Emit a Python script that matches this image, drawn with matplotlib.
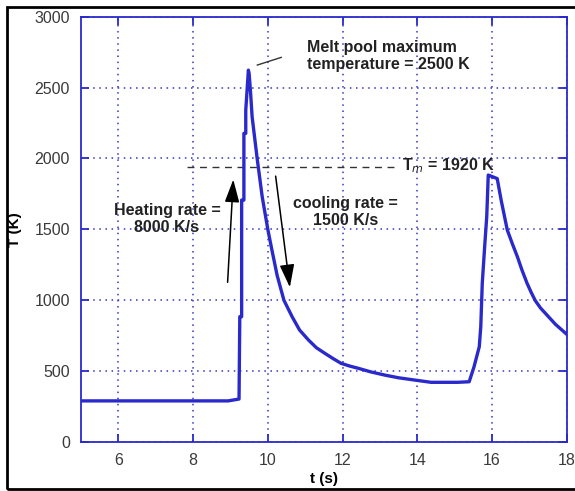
import matplotlib
matplotlib.use("Agg")
import matplotlib.pyplot as plt
from matplotlib.patches import Rectangle

plt.rcParams["font.family"] = ["Liberation Sans", "DejaVu Sans"]

# temperature history
t_s = [5.0, 8.94, 9.23, 9.25, 9.30, 9.30, 9.36, 9.36, 9.41, 9.41, 9.48, 9.50,
       9.54, 9.58, 9.72, 9.85, 10.0, 10.11, 10.25, 10.43, 10.65, 10.85, 11.09,
       11.3, 11.53, 11.75, 11.96, 12.2, 12.42, 12.75, 13.13, 13.5, 13.93,
       14.37, 15.08, 15.39, 15.52, 15.66, 15.70, 15.74, 15.81, 15.86, 15.90,
       15.93, 16.14, 16.25, 16.41, 16.55, 16.68, 16.8, 16.94, 17.05, 17.16,
       17.3, 17.47, 17.7, 18.0]
T_K = [290, 290, 303, 884, 884, 1707, 1707, 2177, 2177, 2341, 2623, 2600,
       2459, 2294, 1989, 1730, 1500, 1354, 1175, 1001, 884, 790, 719,
       665, 625, 588, 555, 535, 520, 495, 472, 453, 437,
       421, 421, 425, 531, 672, 813, 1119, 1401, 1590, 1883,
       1880, 1858, 1700, 1495, 1395, 1307, 1215, 1119, 1055, 997,
       945, 896, 830, 760]

xticks = [6, 8, 10, 12, 14, 16, 18]
yticks = [0, 500, 1000, 1500, 2000, 2500, 3000]

T_melt = 1940
melt_span = [7.85, 13.5]

blue = "#2a2acc"
grid_blue = "#3535c0"

fig = plt.figure(figsize=(5.75, 4.91), dpi=100)
ax = fig.add_axes([81 / 575, 1 - 442 / 491, (566.7 - 81) / 575, (442 - 16.7) / 491])

ax.plot(t_s, T_K, color=blue, lw=2.4, solid_joinstyle="round", zorder=3)
ax.plot(melt_span, [T_melt, T_melt], color="#333333", lw=1.0, ls=(0, (5, 4)), zorder=2)

ax.set_xlim(5, 18)
ax.set_ylim(0, 3000)
ax.set_xticks(xticks)
ax.set_yticks(yticks)
ax.grid(True, color=grid_blue, lw=1.1, ls=(0, (1, 3)))
for sp in ax.spines.values():
    sp.set_color(blue)
    sp.set_linewidth(1.3)
ax.tick_params(direction="in", length=6, width=1.3, color=blue,
               top=True, right=True, labelsize=11.5, labelcolor="#3a3a3a", pad=8)

ax.set_xlabel("t (s)", fontsize=11, fontweight="bold", labelpad=3)
ax.set_ylabel("T (K)", fontsize=11, fontweight="bold")
ax.yaxis.set_label_coords(-0.122, 0.5)

bold = dict(fontsize=11.5, fontweight="bold", color="#222222")
ax.text(7.3, 1573, "Heating rate =\n8000 K/s", ha="center", va="center",
        linespacing=1.2, **bold)
ax.text(12.07, 1624, "cooling rate =\n1500 K/s", ha="center", va="center",
        linespacing=1.2, **bold)
ax.text(11.04, 2722, "Melt pool maximum\ntemperature = 2500 K", ha="left", va="center",
        linespacing=1.2, **bold)
ax.text(13.6, 1950, "T$_m$ = 1920 K", ha="left", va="center", **bold)

ax.plot([9.72, 10.36], [2659, 2713], color="#333333", lw=1.0)
ax.annotate("", xy=(9.08, 1871), xytext=(8.92, 1107),
            arrowprops=dict(arrowstyle="-|>,head_width=0.45,head_length=1.4",
                            color="black", lw=1.1))
ax.annotate("", xy=(10.6, 1072), xytext=(10.2, 1895),
            arrowprops=dict(arrowstyle="-|>,head_width=0.45,head_length=1.4",
                            color="black", lw=1.1))

# outer frame of the figure
fig.patches.append(Rectangle((7 / 575, 1 - 489 / 491), 1.0, (489 - 7) / 491,
                             transform=fig.transFigure, fill=False,
                             edgecolor="black", lw=2.0))

fig.savefig("out.png", dpi=100)
